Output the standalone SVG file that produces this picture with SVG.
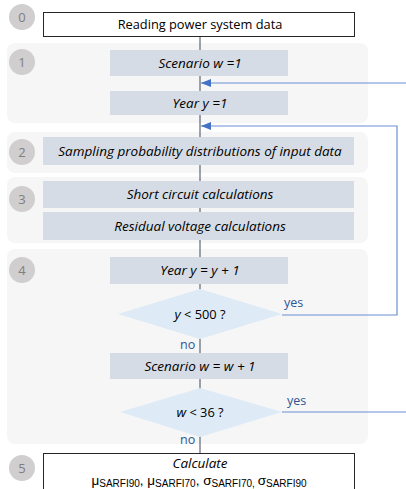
<svg xmlns="http://www.w3.org/2000/svg" width="406" height="489" viewBox="0 0 406 489">
<defs>
<style>
.panel{fill:#f6f6f6}
.box{fill:#d6dce5}
.wbox{fill:#ffffff;stroke:#262626;stroke-width:1}
.dia{fill:#deebf7}
.num circle{fill:#d0cece}
.num text{font-family:"Open Sans","Liberation Sans",sans-serif;font-size:13px;fill:#7f7f7f;text-anchor:middle}
.t{font-family:"Open Sans","Liberation Sans",sans-serif;font-size:12.8px;fill:#000;text-anchor:middle}
.i{font-style:italic;font-size:13.5px}
.lab{font-family:"Open Sans","Liberation Sans",sans-serif;font-size:12.5px;fill:#2f5597}
.main{stroke:#404a5a;stroke-width:1;fill:none}
.fb{stroke:#6c8fd3;stroke-width:1.2;fill:none}
</style>
<marker id="ah" viewBox="0 0 10 8" refX="10" refY="4" markerWidth="10" markerHeight="8" markerUnits="userSpaceOnUse" orient="auto">
<path d="M0,0 L10,4 L0,8 Z" fill="#4472c4"/>
</marker>
</defs>
<g id="panels">
<rect class="panel" x="7" y="43" width="361" height="80" rx="8"/>
<rect class="panel" x="7" y="132" width="361" height="41" rx="8"/>
<rect class="panel" x="7" y="177" width="361" height="66" rx="8"/>
<rect class="panel" x="7" y="249" width="361" height="195" rx="8"/>
</g>
<g id="connectors">
<line class="main" x1="200" y1="36" x2="200" y2="453"/>
<polyline class="fb" points="282,315 397,315 397,126 201,126" marker-end="url(#ah)"/>
<polyline class="fb" points="282,412 406,412"/>
<polyline class="fb" points="406,83 201,83" marker-end="url(#ah)"/>
</g>
<g id="steps">
<g class="num" id="step0"><circle cx="22" cy="17" r="13"/><text x="22" y="22">0</text></g>
<g class="num" id="step1"><circle cx="22" cy="62" r="13"/><text x="22" y="67">1</text></g>
<g class="num" id="step2"><circle cx="22" cy="152" r="13"/><text x="22" y="157">2</text></g>
<g class="num" id="step3"><circle cx="22" cy="199" r="13"/><text x="22" y="204">3</text></g>
<g class="num" id="step4"><circle cx="22" cy="270" r="13"/><text x="22" y="275">4</text></g>
<g class="num" id="step5"><circle cx="22" cy="468" r="13"/><text x="22" y="473">5</text></g>
</g>
<g id="n-read"><rect class="wbox" x="43.5" y="12.5" width="311" height="24"/><text class="t" x="200" y="29">Reading power system data</text></g>
<g id="n-scen1"><rect class="box" x="110" y="50" width="178" height="26"/><text class="t i" x="200" y="68">Scenario w =1</text></g>
<g id="n-year1"><rect class="box" x="110" y="91" width="178" height="24"/><text class="t i" x="200" y="108">Year y =1</text></g>
<g id="n-sample"><rect class="box" x="43" y="137" width="311" height="28"/><text class="t i" x="200" y="156">Sampling probability distributions of input data</text></g>
<g id="n-short"><rect class="box" x="43" y="181" width="311" height="27"/><text class="t i" x="200" y="199">Short circuit calculations</text></g>
<g id="n-resid"><rect class="box" x="43" y="212" width="311" height="28"/><text class="t i" x="200" y="231">Residual voltage calculations</text></g>
<g id="n-yinc"><rect class="box" x="110" y="257" width="178" height="27"/><text class="t i" x="200" y="275">Year y = y + 1</text></g>
<g id="n-ycheck"><polygon class="dia" points="200,289 282,314 200,339 118,314"/><text class="t" x="200" y="319"><tspan class="i">y</tspan> &lt; 500 ?</text></g>
<g id="n-winc"><rect class="box" x="110" y="353" width="178" height="26"/><text class="t i" x="200" y="371">Scenario w = w + 1</text></g>
<g id="n-wcheck"><polygon class="dia" points="200,388 282,412 200,437 120,412"/><text class="t" x="200" y="417"><tspan class="i">w</tspan> &lt; 36 ?</text></g>
<g id="n-calc"><rect class="wbox" x="43.5" y="453.5" width="311" height="40"/><text class="t i" x="200" y="468">Calculate</text>
<text x="199" y="485" style="font-family:'Liberation Sans',Arial,sans-serif;font-size:13.5px;text-anchor:middle;fill:#000">μ<tspan font-size="10" dy="2">SARFI90</tspan><tspan dy="-2">, μ</tspan><tspan font-size="10" dy="2">SARFI70</tspan><tspan dy="-2">, σ</tspan><tspan font-size="10" dy="2">SARFI70, </tspan><tspan dy="-2">σ</tspan><tspan font-size="10" dy="2">SARFI90</tspan></text></g>
<g id="labels">
<text class="lab" x="284" y="307">yes</text>
<text class="lab" x="180" y="349">no</text>
<text class="lab" x="287" y="405">yes</text>
<text class="lab" x="180" y="444">no</text>
</g>
</svg>
